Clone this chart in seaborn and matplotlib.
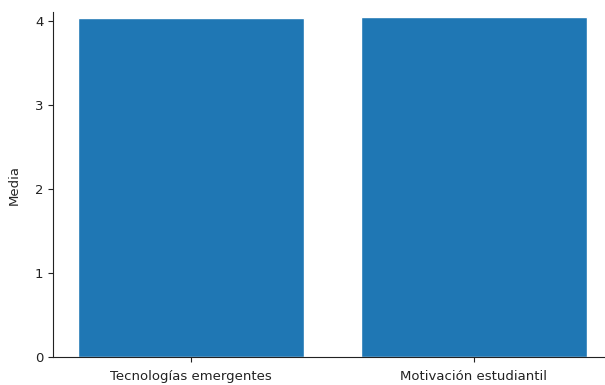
import matplotlib
matplotlib.use("Agg")
import matplotlib.pyplot as plt
import seaborn as sns
import pandas as pd

categorias = ["Tecnologías emergentes", "Motivación estudiantil"]
medias = [4.04, 4.05]

sns.set_style("ticks")
plt.rcParams["font.family"] = ["DejaVu Sans"]

df = pd.DataFrame({"categoria": categorias, "media": medias})

fig = plt.figure(figsize=(6.05, 3.85), dpi=100)
ax = fig.add_axes([0.0876, 0.0727, 0.924, 0.896])
sns.barplot(data=df, x="categoria", y="media", color="#1f77b4",
            saturation=1, width=0.8, ax=ax)
ax.set_xlim(-0.49, 1.49)
ax.set_ylim(0, 4.11)
ax.set_yticks([0, 1, 2, 3, 4])
ax.set_xlabel("")
ax.set_ylabel("Media", fontsize=9.5, labelpad=10)
ax.tick_params(labelsize=9.5, length=3.5, width=0.8, colors="#222222")
ax.tick_params(axis="x", pad=6)
for s in ("left", "bottom"):
    ax.spines[s].set_linewidth(0.8)
    ax.spines[s].set_color("#222222")
sns.despine(ax=ax)

fig.savefig("out.png", dpi=100)
